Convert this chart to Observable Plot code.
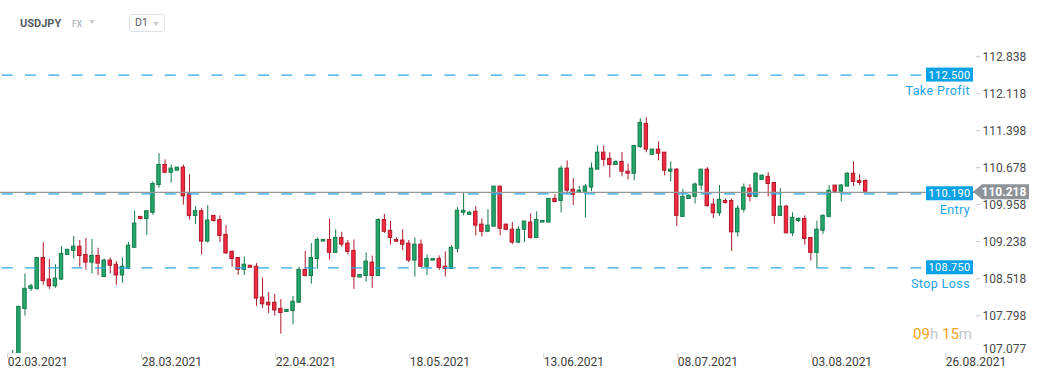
<!DOCTYPE html>
<html>
<head>
<meta charset="utf-8">
<script src="https://cdn.jsdelivr.net/npm/d3@7"></script>
<script src="https://cdn.jsdelivr.net/npm/@observablehq/plot@0.6"></script>
<style>
  body { margin: 0; background: #fff; font-family: Roboto, "Noto Sans", sans-serif; }
  #wrap { position: relative; width: 1041px; height: 379px; overflow: hidden; background: #fff; }
  #wrap svg { position: absolute; left: 0; top: 0; }
  .hdr { position: absolute; font-family: Roboto, sans-serif; }
  .sym { left: 20px; top: 17px; font-size: 11px; font-weight: 700; color: #555b62; line-height: 14px; }
  .fx { left: 72px; top: 19px; font-size: 8.5px; color: #9aa5b1; line-height: 10px; }
  .tri { width: 0; height: 0; border-left: 3.5px solid transparent; border-right: 3.5px solid transparent; border-top: 4px solid #c9ced3; }
  .tf { left: 129px; top: 14px; width: 34px; height: 16px; border: 1px solid #e0e3e6; border-radius: 3px; }
  .tf span { position: absolute; left: 5px; top: 1px; font-size: 10.5px; color: #555b62; line-height: 14px; }
  .cd { right: 69px; top: 325px; font-size: 15px; line-height: 18px; color: #c2c6ca; white-space: nowrap; }
  .cd b { font-weight: 400; color: #f5a21c; }
</style>
</head>
<body>
<div id="wrap"></div>
<script>
// ---- data (USDJPY D1), bar index 1..141 ----
const openP = [106.70,107.00,107.95,108.34,108.34,108.94,108.52,108.39,108.52,109.00,
  109.08,109.16,109.00,108.85,108.98,108.57,108.89,108.81,108.60,108.73,
  109.14,109.74,109.70,109.82,110.36,110.75,110.60,110.64,110.70,110.18,
  109.76,109.85,109.26,109.76,109.68,109.39,109.06,108.94,108.71,108.79,
  108.77,108.17,108.07,108.07,107.95,107.89,107.91,108.07,108.71,108.59,
  108.92,109.26,109.29,109.04,109.33,109.22,109.08,108.56,108.59,108.85,
  108.59,109.68,109.47,109.29,109.28,109.22,108.89,109.20,108.77,108.89,
  108.92,108.77,108.73,109.12,109.82,109.78,109.84,109.59,109.45,109.55,
  110.33,109.59,109.49,109.24,109.49,109.63,109.33,109.63,109.63,110.09,
  110.05,110.68,110.27,110.21,110.23,110.31,110.66,110.99,110.87,110.75,
  110.81,110.62,110.58,111.10,111.55,110.95,111.05,110.99,110.62,110.66,
  109.74,110.09,110.13,110.35,110.66,109.98,109.81,110.05,110.05,109.44,
  109.88,110.29,110.13,110.46,110.52,110.40,109.76,109.94,109.42,109.66,
  109.70,109.33,109.04,109.47,109.74,110.35,110.23,110.33,110.58,110.44,
  110.44];
const highP = [107.14,108.00,108.63,108.43,108.95,109.24,108.91,108.81,109.16,109.10,
  109.36,109.28,109.32,109.30,109.13,108.92,108.94,108.87,108.94,109.24,
  109.85,109.74,109.85,110.42,110.97,110.85,110.75,110.70,110.75,110.56,
  109.94,109.90,109.96,109.76,109.76,109.57,109.08,108.95,108.96,108.79,
  108.83,108.55,108.27,108.23,108.13,107.93,108.19,108.76,109.07,109.22,
  109.33,109.29,109.70,109.49,109.44,109.28,109.29,108.61,109.04,108.98,
  109.70,109.79,109.65,109.33,109.49,109.28,109.33,109.29,109.00,108.92,
  108.98,109.06,109.18,109.92,110.21,109.85,109.94,109.70,109.88,110.33,
  110.33,109.59,109.63,109.55,109.65,109.80,109.84,109.66,110.09,110.17,
  110.73,110.83,110.49,110.33,110.37,110.79,111.12,111.12,110.99,110.83,
  110.99,110.77,111.12,111.65,111.67,111.05,111.20,110.99,110.81,110.68,
  110.27,110.17,110.40,110.66,110.70,110.09,110.35,110.09,110.09,109.96,
  110.38,110.37,110.60,110.56,110.60,110.40,110.29,109.96,109.82,109.72,
  109.76,109.33,109.66,109.78,110.35,110.35,110.37,110.60,110.81,110.56,
  110.46];
const lowP = [106.60,106.95,107.81,108.29,108.31,108.41,108.33,108.35,108.50,109.00,
  108.92,108.76,108.70,108.63,108.60,108.57,108.63,108.41,108.45,108.73,
  109.13,109.68,109.38,109.77,110.30,110.58,110.40,110.64,109.97,109.68,
  109.59,109.00,109.23,109.64,109.24,109.01,108.76,108.60,108.60,108.75,
  108.00,107.96,107.86,107.81,107.46,107.89,107.64,108.07,108.57,108.43,
  108.72,109.26,108.90,109.04,109.15,109.00,108.33,108.56,108.47,108.35,
  108.59,109.42,109.19,109.24,109.08,108.85,108.57,108.75,108.60,108.89,
  108.70,108.57,108.73,109.04,109.76,109.78,109.37,109.35,109.45,109.55,
  109.37,109.47,109.20,109.22,109.24,109.31,109.33,109.63,109.63,110.01,
  109.82,110.17,109.96,110.19,109.72,110.23,110.66,110.72,110.50,110.75,
  110.52,110.46,110.44,111.07,110.99,110.95,110.83,110.54,110.42,109.55,
  109.74,110.09,109.99,110.25,109.93,109.71,109.75,109.99,109.07,109.35,
  109.82,110.03,110.11,110.46,110.13,109.60,109.76,109.42,109.36,109.63,
  109.19,108.88,108.73,109.40,109.72,110.19,110.03,110.33,110.33,110.35,
  110.21];
const closeP = [107.00,107.99,108.34,108.39,108.94,108.49,108.39,108.54,109.02,109.10,
  109.16,108.98,108.85,108.98,108.83,108.89,108.79,108.60,108.77,109.18,
  109.61,109.70,109.85,110.38,110.75,110.60,110.68,110.70,110.14,109.76,
  109.85,109.26,109.67,109.66,109.37,109.03,108.92,108.71,108.81,108.75,
  108.15,108.04,108.02,107.92,107.87,107.93,108.09,108.71,108.59,108.94,
  109.29,109.29,109.04,109.33,109.20,109.06,108.57,108.61,108.87,108.59,
  109.68,109.45,109.33,109.26,109.20,108.89,109.20,108.77,108.92,108.92,
  108.75,108.73,109.14,109.86,109.86,109.82,109.57,109.45,109.57,110.33,
  109.51,109.49,109.24,109.49,109.65,109.33,109.68,109.66,110.09,110.03,
  110.68,110.25,110.17,110.25,110.33,110.68,110.99,110.85,110.75,110.81,
  110.62,110.58,111.12,111.57,111.05,111.05,110.97,110.64,110.66,109.76,
  110.13,110.15,110.37,110.66,109.95,109.81,110.07,110.01,109.44,109.90,
  110.31,110.13,110.58,110.54,110.38,109.76,109.94,109.42,109.72,109.70,
  109.31,109.04,109.49,109.76,110.25,110.23,110.35,110.58,110.42,110.40,
  110.23];

const xTickIdx = [0, 22, 44, 66, 88, 110, 132, 154];
const xTickLabels = ["02.03.2021","28.03.2021","22.04.2021","18.05.2021","13.06.2021","08.07.2021","03.08.2021","26.08.2021"];
const yTicks = [112.838, 112.118, 111.398, 110.678, 109.958, 109.238, 108.518, 107.798];
const yBottomTick = 107.077;
const levelValues = [112.5, 110.19, 108.75];
const levelNames = ["Take Profit", "Entry", "Stop Loss"];
const currentPrice = 110.218;
const symbolName = "USDJPY", marketName = "FX", timeframe = "D1";
const countdown = [["09", "h "], ["15", "m"]];

// ---- build ----
const candles = openP.map((o, k) => ({i: k + 1, open: o, high: highP[k], low: lowP[k], close: closeP[k]}));
const up = candles.filter(d => d.close >= d.open);
const down = candles.filter(d => d.close < d.open);
const labelMap = new Map(xTickIdx.map((t, k) => [t, xTickLabels[k]]));

const G_FILL = "#24a86b", G_LINE = "#137a4a", R_FILL = "#f52a40", R_LINE = "#ad1a2c";
const BLUE = "#0aa2e6";
const HW = 0.28;

function levelsMark(index, scales, values, dims) {
  const g = d3.create("svg:g");
  const xr = dims.width - dims.marginRight;
  levelValues.forEach((v, k) => {
    const yy = scales.y(v);
    g.append("rect").attr("x", xr - 49).attr("y", yy - 7).attr("width", 47).attr("height", 14).attr("fill", BLUE);
    g.append("text").attr("x", xr - 25.5).attr("y", yy).attr("dy", "0.36em")
      .attr("text-anchor", "middle").attr("fill", "#fff").attr("font-size", 11).attr("letter-spacing", 0.3)
      .attr("font-family", "Roboto, sans-serif").text(v.toFixed(3));
    g.append("text").attr("x", xr - 5).attr("y", yy + 16).attr("dy", "0.36em")
      .attr("text-anchor", "end").attr("fill", "#1ba3e6").attr("font-size", 12.5).attr("letter-spacing", 0.4)
      .attr("font-family", "Roboto, sans-serif").text(levelNames[k]);
  });
  // current price tag
  const yc = scales.y(currentPrice);
  const x0 = xr - 2;
  g.append("path").attr("d", `M${x0},${yc} L${x0 + 9},${yc - 7.5} L${x0 + 56},${yc - 7.5} L${x0 + 56},${yc + 7.5} L${x0 + 9},${yc + 7.5} Z`)
    .attr("fill", "#8d9399");
  g.append("text").attr("x", x0 + 31).attr("y", yc).attr("dy", "0.36em").attr("text-anchor", "middle")
    .attr("fill", "#fff").attr("font-weight", 700).attr("font-size", 12).attr("font-family", "Roboto, sans-serif")
    .text(currentPrice.toFixed(3));
  return g.node();
}

const chart = Plot.plot({
  width: 1041,
  height: 379,
  marginLeft: 0,
  marginRight: 66,
  marginTop: 0,
  marginBottom: 26,
  style: {fontFamily: "Roboto, sans-serif", background: "transparent", overflow: "visible"},
  x: {type: "linear", domain: [-1.018, 159.03], axis: null, label: null},
  y: {domain: [107.082, 113.951], axis: null, label: null},
  marks: [
    Plot.axisX({ticks: xTickIdx, tickFormat: d => labelMap.get(d), tickSize: 5, tickPadding: -1, label: null,
      textAnchor: "start", dx: 1, fontSize: 12, fill: "#3d3d3d", stroke: "#cfcfcf"}),
    Plot.axisY({anchor: "right", ticks: yTicks, tickFormat: d => d.toFixed(3), tickSize: 4, tickPadding: 3, label: null,
      dy: -1, fontSize: 12, fill: "#4a4a4a", stroke: "#c8c8c8"}),
    Plot.axisY({anchor: "right", ticks: [yBottomTick], tickFormat: d => d.toFixed(3), tickSize: 0, tickPadding: 7, label: null,
      dy: -5, fontSize: 12, fill: "#4a4a4a"}),
    Plot.ruleX(up, {x: "i", y1: "low", y2: "high", stroke: G_LINE, strokeWidth: 1, clip: true}),
    Plot.ruleX(down, {x: "i", y1: "low", y2: "high", stroke: R_LINE, strokeWidth: 1, clip: true}),
    Plot.rect(up, {x1: d => d.i - HW, x2: d => d.i + HW, y1: "open", y2: "close", fill: G_FILL, stroke: G_LINE, strokeWidth: 1, clip: true}),
    Plot.rect(down, {x1: d => d.i - HW, x2: d => d.i + HW, y1: "open", y2: "close", fill: R_FILL, stroke: R_LINE, strokeWidth: 1, clip: true}),
    Plot.ruleY([currentPrice], {stroke: "#979797", strokeWidth: 1.2}),
    Plot.ruleY(levelValues, {stroke: "#2aa8e8", strokeWidth: 1.3, strokeDasharray: "11,12.3", strokeDashoffset: -1.7}),
    levelsMark
  ]
});

const wrap = document.getElementById("wrap");
wrap.appendChild(chart);

// header overlay
wrap.insertAdjacentHTML("beforeend",
  `<div class="hdr sym">${symbolName}</div>
   <div class="hdr fx">${marketName}</div>
   <div class="hdr tri" style="left:89px;top:20px"></div>
   <div class="hdr tf"><span>${timeframe}</span><div class="tri" style="position:absolute;left:23px;top:7px"></div></div>
   <div class="hdr cd">${countdown.map(([n, u]) => `<b>${n}</b>${u}`).join("")}</div>`);
</script>
</body>
</html>
